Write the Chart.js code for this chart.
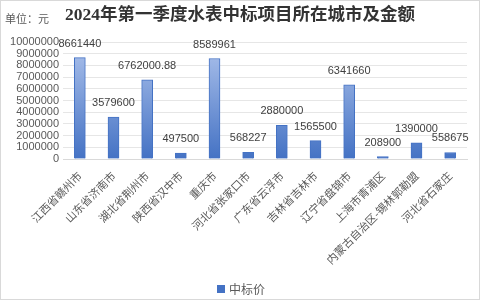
<!DOCTYPE html>
<html><head><meta charset="utf-8">
<script src="https://cdn.jsdelivr.net/npm/chart.js@4/dist/chart.umd.min.js"></script>
<style>html,body{margin:0;padding:0;background:#fff}#w{width:480px;height:300px}</style>
</head><body><div id="w"><canvas id="c" width="480" height="300"></canvas></div>
<script>
const categories = ["江西省赣州市","山东省济南市","湖北省荆州市","陕西省汉中市","重庆市","河北省张家口市","广东省云浮市","吉林省吉林市","辽宁省盘锦市","上海市青浦区","内蒙古自治区-锡林郭勒盟","河北省石家庄"];
const prices = [8661440,3579600,6762000.88,497500,8589961,568227,2880000,1565500,6341660,208900,1390000,558675];
const priceLabels = ["8661440","3579600","6762000.88","497500","8589961","568227","2880000","1565500","6341660","208900","1390000","558675"];
const seriesName = "中标价";
const titleText = "2024年第一季度水表中标项目所在城市及金额";
const unitText = "单位：元";

const CJK = "'Noto Sans CJK SC', 'Noto Sans', sans-serif";

const decor = {
  id: 'decor',
  beforeDraw(chart) {
    const ctx = chart.ctx;
    ctx.save();
    ctx.fillStyle = '#fff';
    ctx.fillRect(0,0,chart.width,chart.height);
    ctx.strokeStyle = '#d9d9d9';
    ctx.lineWidth = 1;
    ctx.strokeRect(0.5,0.5,chart.width-1,chart.height-1);
    ctx.restore();
  },
  afterDraw(chart) {
    const ctx = chart.ctx;
    ctx.save();
    ctx.textBaseline = 'middle';
    ctx.fillStyle = '#333';
    ctx.font = "bold 17.5px 'Liberation Serif', " + CJK;
    ctx.textAlign = 'center';
    ctx.fillText(titleText, 240, 15);
    ctx.fillStyle = '#595959';
    ctx.font = "11px " + CJK;
    ctx.textAlign = 'left';
    ctx.fillText(unitText, 5, 19);
    // legend
    const ds = chart.data.datasets[0];
    ctx.fillStyle = '#4472c4';
    ctx.fillRect(217, 285, 8, 8);
    ctx.fillStyle = '#595959';
    ctx.font = "12px " + CJK;
    ctx.fillText(ds.label, 229, 289);
    // data labels
    const meta = chart.getDatasetMeta(0);
    ctx.font = "11px 'Liberation Sans', " + CJK;
    ctx.fillStyle = '#404040';
    ctx.textAlign = 'center';
    meta.data.forEach((bar, i) => {
      ctx.fillText(priceLabels[i], bar.x, bar.y - 14);
    });
    ctx.restore();
  }
};

new Chart(document.getElementById('c'), {
  type: 'bar',
  data: {
    labels: categories,
    datasets: [{
      label: seriesName,
      data: prices,
      borderColor: '#4472c4',
      borderWidth: 1,
      barThickness: 11,
      backgroundColor: (c) => {
        const ca = c.chart.chartArea;
        if (!ca) return '#4472c4';
        const g = c.chart.ctx.createLinearGradient(0, ca.top, 0, ca.bottom);
        g.addColorStop(0, '#aec3ec');
        g.addColorStop(1, '#4472c4');
        return g;
      }
    }]
  },
  options: {
    responsive: false,
    animation: false,
    devicePixelRatio: 1,
    layout: { padding: { top: 42, right: 13, left: 4, bottom: 27 } },
    plugins: {
      title: { display: false },
      tooltip: { enabled: false },
      legend: { display: false }
    },
    scales: {
      x: {
        grid: { display: false },
        border: { color: '#d9d9d9' },
        afterFit: (s) => { s.height = 114; },
        ticks: { color: '#595959', font: { size: 11, family: CJK }, minRotation: 45, maxRotation: 45, autoSkip: false, padding: 2 }
      },
      y: {
        min: 0, max: 10000000,
        afterFit: (s) => { s.width = 59; },
        grid: { color: '#e6e6e6', drawTicks: false },
        border: { display: false },
        ticks: { stepSize: 1000000, autoSkip: false, callback: (v) => String(v), color: '#595959', font: { size: 11, family: "'Liberation Sans', sans-serif" }, padding: 4 }
      }
    }
  },
  plugins: [decor]
});
</script></body></html>
